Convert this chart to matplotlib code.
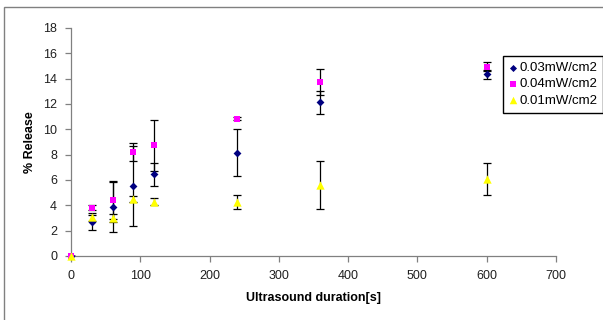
"""Release vs. ultrasound duration scatter with error bars."""
import matplotlib
matplotlib.use("Agg")
import matplotlib.pyplot as plt
from matplotlib.patches import Rectangle

plt.rcParams["font.family"] = ["Liberation Sans", "DejaVu Sans"]

# Data.
durations = [0, 30, 60, 90, 120, 240, 360, 600]
labels = ["0.03mW/cm2", "0.04mW/cm2", "0.01mW/cm2"]
release_003 = [0, 2.65, 3.9, 5.55, 6.45, 8.15, 12.15, 14.35]
err_003 = [0, 0.6, 2.0, 3.15, 0.9, 1.85, 0.9, 0.35]
release_004 = [0, 3.8, 4.4, 8.2, 8.75, 10.85, 13.75, 14.95]
err_004 = [0, 0.2, 1.45, 0.7, 2.0, 0.15, 1.0, 0.35]
release_001 = [0, 3.1, 3.0, 4.5, 4.3, 4.3, 5.6, 6.1]
err_001 = [0, 0.3, 0.35, 0.2, 0.3, 0.55, 1.9, 1.28]

series = [
    (release_003, err_003, "#000080", "D", 4),
    (release_004, err_004, "#FF00FF", "s", 5),
    (release_001, err_001, "#FFFF00", "^", 6),
]

fig = plt.figure(figsize=(6.03, 3.2), dpi=100)
ax = fig.add_axes([0.1177, 0.2, 0.8043, 0.7125])

handles = []
for (vals, errs, color, marker, size), label in zip(series, labels):
    ax.errorbar(
        durations, vals, yerr=errs, fmt="none", ecolor="black",
        elinewidth=0.9, capsize=3, capthick=0.9, zorder=2,
    )
    h = ax.scatter(
        durations, vals, marker=marker, s=size ** 2, color=color,
        edgecolors=color, linewidths=0, zorder=3, label=label, clip_on=False,
    )
    handles.append(h)

ax.set_xlim(0, 700)
ax.set_ylim(0, 18)
ax.set_xticks(range(0, 701, 100))
ax.set_yticks(range(0, 19, 2))
for side in ("top", "right"):
    ax.spines[side].set_visible(False)
for side in ("left", "bottom"):
    ax.spines[side].set_color("#808080")
    ax.spines[side].set_linewidth(0.9)
ax.tick_params(direction="out", length=4, width=0.9, color="#808080",
               labelsize=9, labelcolor="#202020", pad=6)
ax.set_xlabel("Ultrasound duration[s]", fontsize=9, fontweight="bold", labelpad=7)
ax.set_ylabel("% Release", fontsize=9, fontweight="bold", labelpad=5)

fig.legend(
    handles=handles, labels=labels, loc="upper left",
    bbox_to_anchor=(503 / 603, 1 - 56 / 320), borderaxespad=0, fontsize=9.5,
    frameon=True, fancybox=False, edgecolor="black", framealpha=1,
    handlelength=0.6, handletextpad=0.2, borderpad=0.45, labelspacing=0.3,
    markerscale=0.9, scatterpoints=1,
)

# Chart-area border, cut off on the right and bottom like the original.
fig.patches.append(Rectangle(
    (4 / 603, -0.1), 1.2, 1 - 7 / 320 + 0.1, transform=fig.transFigure,
    fill=False, edgecolor="#808080", linewidth=1.0,
))

fig.savefig("out.png", dpi=100)
